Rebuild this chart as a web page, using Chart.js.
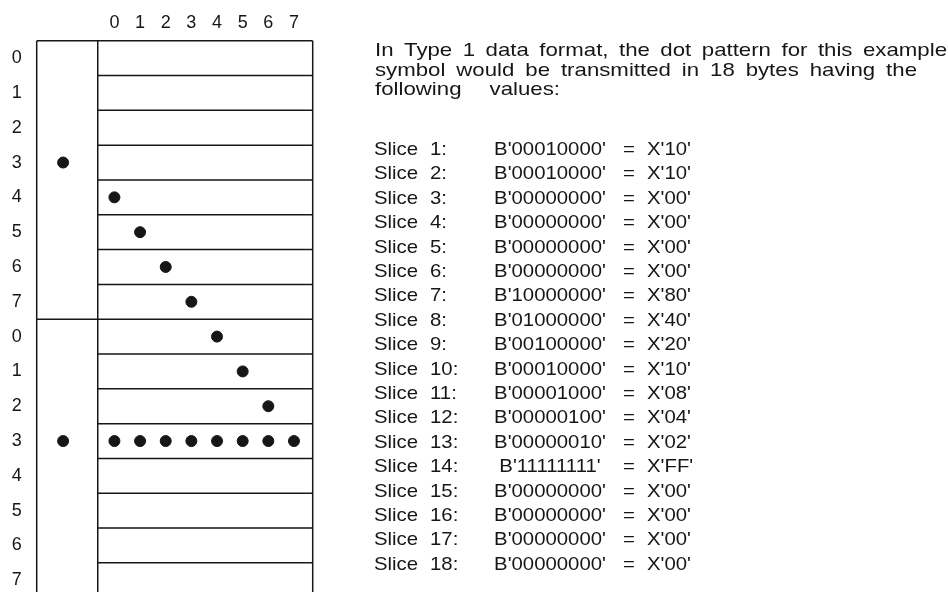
<!DOCTYPE html>
<html>
<head>
<meta charset="utf-8">
<script src="https://cdn.jsdelivr.net/npm/chart.js@4.4.0/dist/chart.umd.min.js"></script>
<style>
  html, body { margin: 0; padding: 0; background: #fff; }
  #wrap { width: 948px; height: 592px; }
</style>
</head>
<body>
<div id="wrap"><canvas id="chart" width="948" height="592"></canvas></div>
<script>
// ---- data ----
const colLabels = ['0', '1', '2', '3', '4', '5', '6', '7'];
const rowLabels = ['0', '1', '2', '3', '4', '5', '6', '7', '0', '1', '2', '3', '4', '5', '6', '7'];

// dot positions (column -2 = the narrow left column)
const dotCols = [-2, 0, 1, 2, 3, 4, 5, 6, -2, 0, 1, 2, 3, 4, 5, 6, 7];
const dotRows = [3, 4, 5, 6, 7, 8, 9, 10, 11, 11, 11, 11, 11, 11, 11, 11, 11];

const introLines = [
  'In Type 1 data format, the dot pattern for this example',
  'symbol would be transmitted in 18 bytes having the',
  'following values:'
];

const sliceNums = [1, 2, 3, 4, 5, 6, 7, 8, 9, 10, 11, 12, 13, 14, 15, 16, 17, 18];
const sliceBits = ['00010000', '00010000', '00000000', '00000000', '00000000', '00000000',
  '10000000', '01000000', '00100000', '00010000', '00001000', '00000100',
  '00000010', '11111111', '00000000', '00000000', '00000000', '00000000'];
const sliceHex = ['10', '10', '00', '00', '00', '00', '80', '40', '20', '10', '08', '04',
  '02', 'FF', '00', '00', '00', '00'];

// ---- drawing helpers ----
const INK = '#161616';
const FAMILY = '"Liberation Sans", Arial, sans-serif';

// scanned type runs a bit wide, so stretch it horizontally
function stretched(ctx, text, x, y, sx, align) {
  ctx.save();
  ctx.translate(x, y);
  ctx.scale(sx, 1);
  ctx.textAlign = align || 'left';
  ctx.fillText(text, 0, 0);
  ctx.restore();
}

function justified(ctx, text, x, y, width, sx) {
  const words = text.split(' ');
  const ws = words.map(w => ctx.measureText(w).width * sx);
  const total = ws.reduce((a, b) => a + b, 0);
  const gap = words.length > 1 ? (width - total) / (words.length - 1) : 0;
  let cx = x;
  words.forEach((w, i) => {
    stretched(ctx, w, cx, y, sx);
    cx += ws[i] + gap;
  });
}

// grid frame: left column + 16 row strips
const framePlugin = {
  id: 'frame',
  beforeDatasetsDraw(chart) {
    const { ctx, scales: { x, y } } = chart;
    const xl = x.getPixelForValue(x.min);
    const xr = x.getPixelForValue(x.max);
    const xd = x.getPixelForValue(-0.65);
    const yt = y.getPixelForValue(-0.5);
    const yb = y.getPixelForValue(rowLabels.length - 0.5);
    ctx.save();
    ctx.strokeStyle = INK;
    ctx.lineWidth = 1.5;
    ctx.beginPath();
    ctx.moveTo(xl, yt); ctx.lineTo(xr, yt);
    [xl, xd, xr].forEach(px => { ctx.moveTo(px, yt); ctx.lineTo(px, yb); });
    const ym = y.getPixelForValue(7.5);
    ctx.moveTo(xl, ym); ctx.lineTo(xd, ym);
    for (let k = 1; k <= rowLabels.length; k++) {
      const py = y.getPixelForValue(k - 0.5);
      ctx.moveTo(xd, py); ctx.lineTo(xr, py);
    }
    ctx.stroke();
    ctx.restore();
  }
};

// explanatory text on the right
const textPlugin = {
  id: 'sliceText',
  afterDraw(chart) {
    const ctx = chart.ctx;
    ctx.save();
    ctx.fillStyle = INK;
    ctx.textBaseline = 'alphabetic';
    ctx.font = '19px ' + FAMILY;
    const widths = [572, 542, 185];
    introLines.forEach((line, i) => justified(ctx, line, 375, 56 + i * 19.7, widths[i], 1.17));
    ctx.font = '18.5px ' + FAMILY;
    sliceNums.forEach((n, i) => {
      const by = 155 + i * 24.4;
      stretched(ctx, 'Slice', 374, by, 1.1);
      stretched(ctx, n + ':', 430, by, 1.1);
      stretched(ctx, "B'" + sliceBits[i] + "'", 550, by, 1.1, 'center');
      stretched(ctx, '=', 629, by, 1.1, 'center');
      stretched(ctx, "X'" + sliceHex[i] + "'", 647, by, 1.1);
    });
    ctx.restore();
  }
};

new Chart(document.getElementById('chart'), {
  type: 'scatter',
  data: {
    datasets: [{
      data: dotCols.map((c, i) => ({ x: c, y: dotRows[i] })),
      backgroundColor: INK,
      borderColor: INK,
      pointRadius: 5.5,
      pointHoverRadius: 5.5
    }]
  },
  options: {
    responsive: false,
    animation: false,
    events: [],
    layout: { padding: { left: 0, right: 635.3, top: 0, bottom: 0 } },
    plugins: { legend: { display: false }, tooltip: { enabled: false } },
    scales: {
      x: {
        type: 'linear',
        position: 'top',
        min: -3.03,
        max: 7.73,
        grid: { display: false, drawTicks: false },
        border: { display: false },
        afterBuildTicks: s => { s.ticks = colLabels.map((_, i) => ({ value: i })); },
        afterFit: s => { s.height = 40.7; s.paddingLeft = 0; s.paddingRight = 0; },
        ticks: {
          padding: 7,
          color: INK,
          font: { family: FAMILY, size: 18 },
          callback: v => colLabels[v],
          maxRotation: 0,
          autoSkip: false
        }
      },
      y: {
        type: 'linear',
        reverse: true,
        min: -0.5,
        max: 15.15,
        grid: { display: false, drawTicks: false },
        border: { display: false },
        afterBuildTicks: s => { s.ticks = rowLabels.map((_, i) => ({ value: i })); },
        afterFit: s => { s.width = 36.7; s.paddingTop = 0; s.paddingBottom = 0; },
        ticks: {
          padding: 15,
          color: INK,
          font: { family: FAMILY, size: 18 },
          callback: v => rowLabels[v],
          autoSkip: false
        }
      }
    }
  },
  plugins: [framePlugin, textPlugin]
});
</script>
</body>
</html>
